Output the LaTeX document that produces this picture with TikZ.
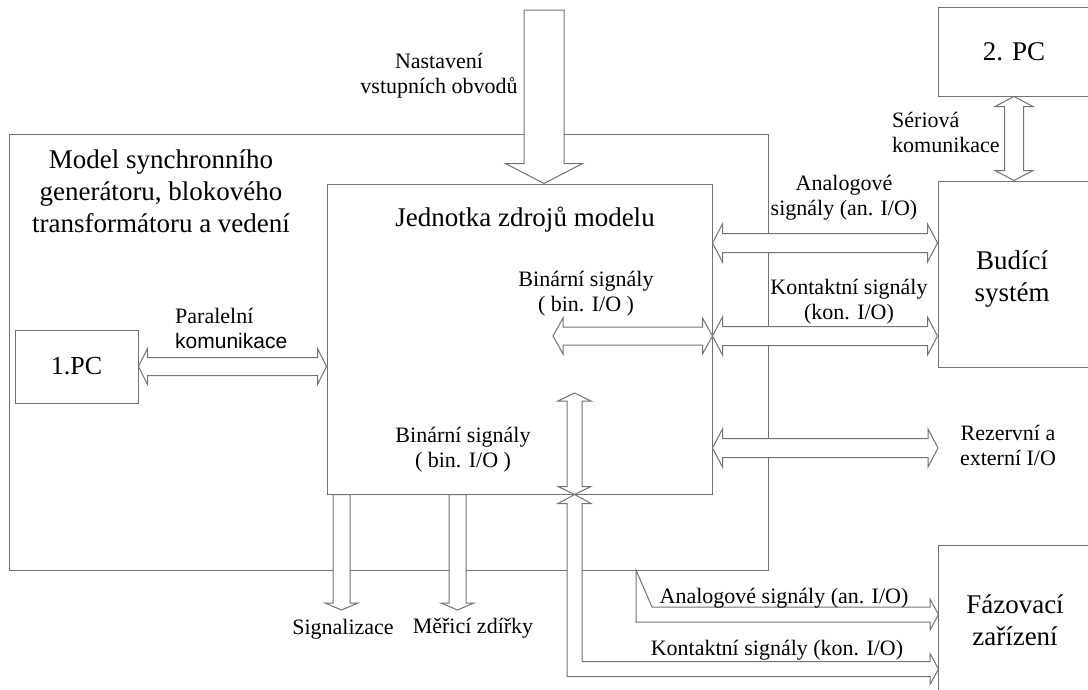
\documentclass[tikz,border=0pt]{standalone}
\usepackage{fontspec}
\setmainfont{Liberation Serif}
\newfontfamily\arialfont{Liberation Sans}
\usetikzlibrary{calc}
\colorlet{linegray}{black!55}
\tikzset{
	ashaft/.store in=\ashaft, ahead/.store in=\ahead, alen/.store in=\alen,
	ashaft=9.5, ahead=19, alen=10,
	box/.style={draw=linegray, line width=1pt, rectangle, inner sep=0pt, align=center},
	blk/.style={draw=linegray, fill=white, line width=1pt},
	smalltxt/.style={font=\fontsize{22}{25}\selectfont, align=center, inner sep=0pt},
	bigtxt/.style={font=\fontsize{27}{32}\selectfont, align=center, inner sep=0pt},
	dblarrow/.style={to path={
		(\tikztostart)
		-- ($(\tikztostart)!\alen pt!(\tikztotarget)!\ahead pt!90:(\tikztotarget)$)
		-- ($(\tikztostart)!\alen pt!(\tikztotarget)!\ashaft pt!90:(\tikztotarget)$)
		-- ($(\tikztotarget)!\alen pt!(\tikztostart)!\ashaft pt!-90:(\tikztostart)$)
		-- ($(\tikztotarget)!\alen pt!(\tikztostart)!\ahead pt!-90:(\tikztostart)$)
		-- (\tikztotarget)
		-- ($(\tikztotarget)!\alen pt!(\tikztostart)!\ahead pt!90:(\tikztostart)$)
		-- ($(\tikztotarget)!\alen pt!(\tikztostart)!\ashaft pt!90:(\tikztostart)$)
		-- ($(\tikztostart)!\alen pt!(\tikztotarget)!\ashaft pt!-90:(\tikztotarget)$)
		-- ($(\tikztostart)!\alen pt!(\tikztotarget)!\ahead pt!-90:(\tikztotarget)$)
		-- cycle}},
	sglarrow/.style={to path={
		($(\tikztostart)!\ashaft pt!90:(\tikztotarget)$)
		-- ($(\tikztotarget)!\alen pt!(\tikztostart)!\ashaft pt!-90:(\tikztostart)$)
		-- ($(\tikztotarget)!\alen pt!(\tikztostart)!\ahead pt!-90:(\tikztostart)$)
		-- (\tikztotarget)
		-- ($(\tikztotarget)!\alen pt!(\tikztostart)!\ahead pt!90:(\tikztostart)$)
		-- ($(\tikztotarget)!\alen pt!(\tikztostart)!\ashaft pt!90:(\tikztostart)$)
		-- ($(\tikztostart)!\ashaft pt!-90:(\tikztotarget)$)
		-- cycle}}
}
\begin{document}
\begin{tikzpicture}[x=1pt,y=-1pt]
	\useasboundingbox (0,0) rectangle (1088,689);
	\fill[white] (0,0) rectangle (1088,689);
	\clip (0,0) rectangle (1088,689);
	% bloky
	\node[box, minimum width=759pt, minimum height=436pt] (model) at (388.5,352) {};
	\node[box, minimum width=385pt, minimum height=310pt] (unit) at (519.5,339) {};
	\node[box, font=\fontsize{26}{30}\selectfont, minimum width=123pt, minimum height=73pt] (pc1) at (76.5,366.5) {1.PC};
	\node[box, bigtxt, minimum width=152pt, minimum height=89pt] (pc2) at (1014,51.5) {2. PC};
	\node[box, minimum width=152pt, minimum height=186pt] (exc) at (1014,274) {};
	\node[box, minimum width=152pt, minimum height=160pt] (phase) at (1014,625) {};
	\coordinate (setend) at (544,10);
	\coordinate (ana) at (0,243);
	\coordinate (kon) at (0,336);
	\coordinate (rez) at (0,448);
	\coordinate (binend) at (553,336);
	\coordinate (rezend) at (938,448);
	\coordinate (binup) at (574.5,393);
	\coordinate (sigend) at (341.5,610);
	\coordinate (merend) at (457.5,610);
	\coordinate (anl) at (636,570);
	% sipky
	\draw[blk, sglarrow, ashaft=20, ahead=38.5, alen=20] (setend) to (unit.north -| setend);
	\draw[blk, dblarrow, ashaft=9, ahead=18, alen=9] (pc1.east) to (unit.west |- pc1.east);
	\draw[blk, dblarrow] (pc2.south) to (exc.north);
	\draw[blk, dblarrow] (unit.east |- ana) to (exc.west |- ana);
	\draw[blk, dblarrow] (unit.east |- kon) to (exc.west |- kon);
	\draw[blk, dblarrow, ashaft=9, ahead=18] (binend) to (unit.east |- kon);
	\draw[blk, dblarrow] (unit.east |- rez) to (rezend);
	\draw[blk, dblarrow, ashaft=7.5, ahead=16.5, alen=8] (binup) to (unit.south -| binup);
	\foreach \e in {sigend,merend}
		\draw[blk, sglarrow, ashaft=8.5, ahead=16.5, alen=7] (unit.south -| \e) to (\e);
	\draw[blk] (anl) -- ++(0,52) -- ++(294,0) -- ++(0,8) -- ++(8.5,-15.5) -- ++(-8.5,-15.5)
		-- ++(0,8) -- ++(-278,0) -- cycle;
	\draw[blk] (unit.south -| binup) -- ++(16.5,9) -- ++(-9,0) -- ++(0,158) -- ++(348,0)
		-- ++(0,-8) -- ++(8.5,15.5) -- ++(-8.5,15.5) -- ++(0,-8) -- ++(-363,0) -- ++(0,-173)
		-- ++(-9,0) -- cycle;
	% popisky
	\node[bigtxt] (modeltxt) at (161,191) {Model synchronního\\generátoru, blokového\\transformátoru a vedení};
	\node[bigtxt, anchor=base] (unittxt) at (525,226) {Jednotka zdrojů modelu};
	\node[bigtxt] (exctxt) at (1012,279) {Budící\\systém};
	\node[bigtxt] (phasetxt) at (1015,620) {Fázovací\\zařízení};
	\node[smalltxt] (settxt) at (439,76) {Nastavení\\vstupních obvodů};
	\node[smalltxt, align=left, anchor=north west] (partxt) at (175,308) {Paralelní\\{\arialfont\fontsize{21}{25}\selectfont komunikace}};
	\node[smalltxt, align=left, anchor=west] (sertxt) at (892,132.5) {Sériová\\komunikace};
	\node[smalltxt] (anatxt) at (844,197.5) {Analogové\\signály (an. I/O)};
	\node[smalltxt] (kontxt) at (849,302) {Kontaktní signály\\(kon. I/O)};
	\node[smalltxt] (bintxt) at (586,294) {Binární signály\\( bin. I/O )};
	\node[smalltxt] (bintxtb) at (463,449.5) {Binární signály\\( bin. I/O )};
	\node[smalltxt] (reztxt) at (1008,445) {Rezervní a\\externí I/O};
	\node[smalltxt, anchor=base] (sigtxt) at (343,634) {Signalizace};
	\node[smalltxt, anchor=base] (mertxt) at (473,633) {Měřicí zdířky};
	\node[smalltxt, anchor=base] (analtxt) at (784,603) {Analogové signály (an. I/O)};
	\node[smalltxt, anchor=base] (konltxt) at (777,655) {Kontaktní signály (kon. I/O)};
\end{tikzpicture}
\end{document}
